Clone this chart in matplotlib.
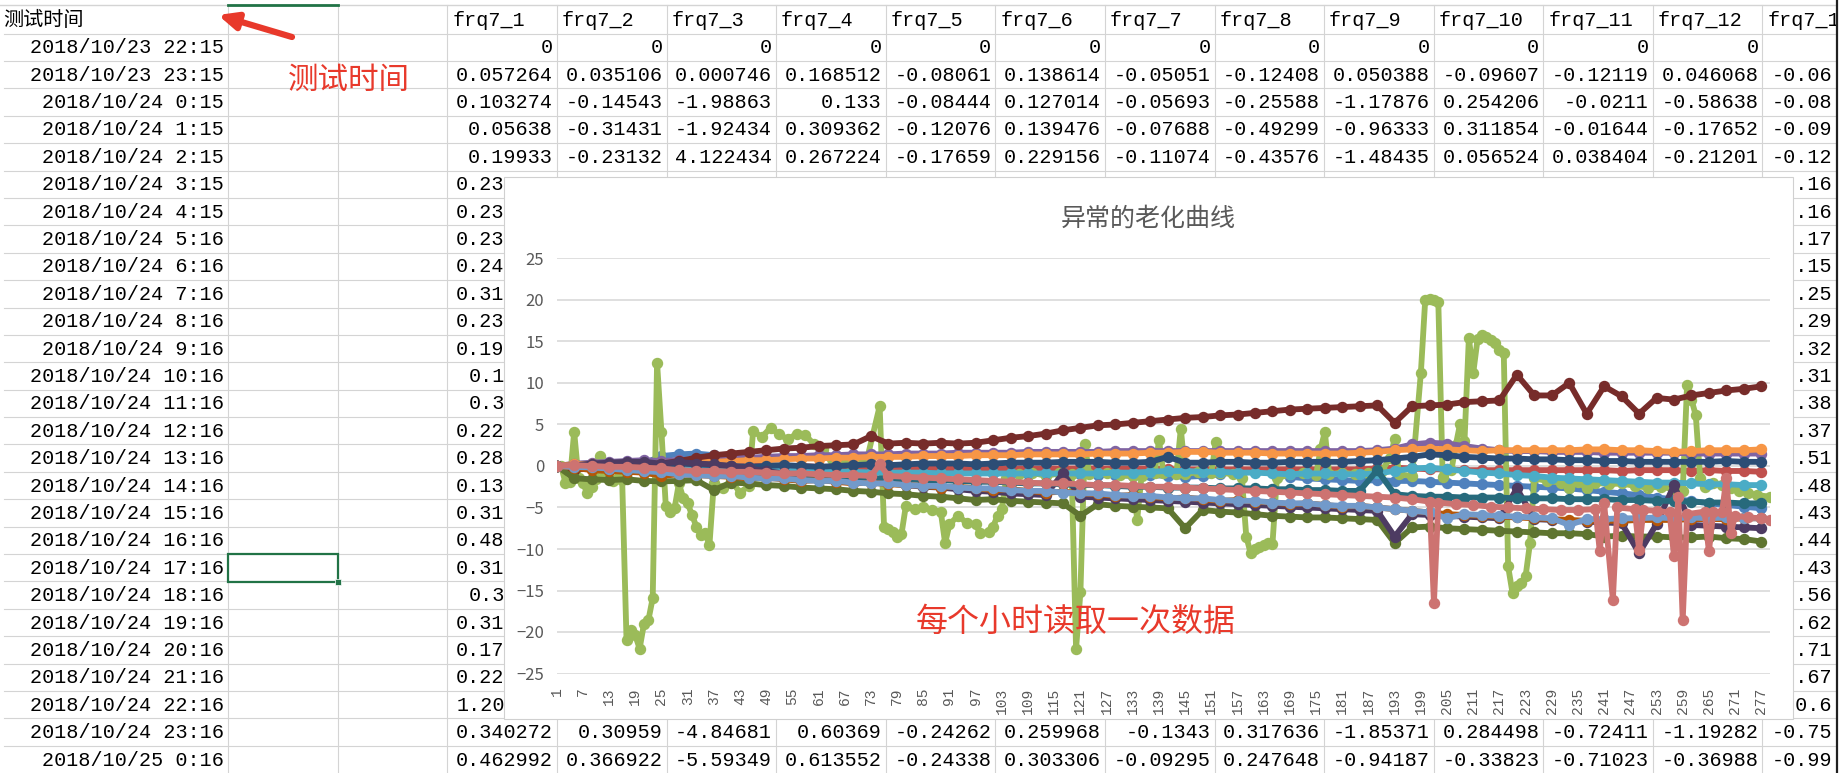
import matplotlib.pyplot as plt
from matplotlib.patches import Rectangle

plt.rcParams['font.family'] = ['Noto Sans CJK SC', 'DejaVu Sans']

# ---------------- spreadsheet contents ----------------
header_label = '测试时间'
frq_names = ['frq7_%d' % (i + 1) for i in range(12)] + ['frq7_1']  # last header is cut by the window
test_times = ['2018/10/23 22:15', '2018/10/23 23:15', '2018/10/24 0:15', '2018/10/24 1:15',
              '2018/10/24 2:15', '2018/10/24 3:15', '2018/10/24 4:15', '2018/10/24 5:16',
              '2018/10/24 6:16', '2018/10/24 7:16', '2018/10/24 8:16', '2018/10/24 9:16',
              '2018/10/24 10:16', '2018/10/24 11:16', '2018/10/24 12:16', '2018/10/24 13:16',
              '2018/10/24 14:16', '2018/10/24 15:16', '2018/10/24 16:16', '2018/10/24 17:16',
              '2018/10/24 18:16', '2018/10/24 19:16', '2018/10/24 20:16', '2018/10/24 21:16',
              '2018/10/24 22:16', '2018/10/24 23:16', '2018/10/25 0:16']

# fully visible rows (row number -> 12 cells)
top_rows = {
    1: ['0'] * 12,
    2: ['0.057264', '0.035106', '0.000746', '0.168512', '-0.08061', '0.138614',
        '-0.05051', '-0.12408', '0.050388', '-0.09607', '-0.12119', '0.046068'],
    3: ['0.103274', '-0.14543', '-1.98863', '0.133', '-0.08444', '0.127014',
        '-0.05693', '-0.25588', '-1.17876', '0.254206', '-0.0211', '-0.58638'],
    4: ['0.05638', '-0.31431', '-1.92434', '0.309362', '-0.12076', '0.139476',
        '-0.07688', '-0.49299', '-0.96333', '0.311854', '-0.01644', '-0.17652'],
    5: ['0.19933', '-0.23132', '4.122434', '0.267224', '-0.17659', '0.229156',
        '-0.11074', '-0.43576', '-1.48435', '0.056524', '0.038404', '-0.21201'],
    26: ['0.340272', '0.30959', '-4.84681', '0.60369', '-0.24262', '0.259968',
         '-0.1343', '0.317636', '-1.85371', '0.284498', '-0.72411', '-1.19282'],
    27: ['0.462992', '0.366922', '-5.59349', '0.613552', '-0.24338', '0.303306',
         '-0.09295', '0.247648', '-0.94187', '-0.33823', '-0.71023', '-0.36988'],
}
# rows 6..25, first data column: only the start of the number shows beside the chart
frq1_visible = ['0.23', '0.23', '0.23', '0.24', '0.31', '0.23', '0.19', '0.1', '0.3', '0.22',
                '0.28', '0.13', '0.31', '0.48', '0.31', '0.3', '0.31', '0.17', '0.22', '1.20']
frq1_length = [8, 8, 8, 8, 8, 8, 8, 7, 7, 8, 8, 8, 8, 8, 8, 7, 8, 8, 8, 8]
# last column (frq7_13), cut by the window edge; rows 2..27
frq13_visible = ['-0.06', '-0.08', '-0.09', '-0.12',
                 '-0.16', '-0.16', '-0.17', '-0.15', '-0.25', '-0.29', '-0.32', '-0.31', '-0.38', '-0.37',
                 '-0.51', '-0.48', '-0.43', '-0.44', '-0.43', '-0.56', '-0.62', '-0.71', '-0.67', '-0.6',
                 '-0.75', '-0.99']
frq13_length = [8] * 23 + [7, 8, 8]

# ---------------- chart data (hour index -> drift) ----------------
HOURS = list(range(1, 278, 4))

frq7_1 = [0.00, 0.20, 0.23, 0.19, 0.28, 0.31, 1.20, 1.40, 1.50, 1.30,
          0.40, 0.20, 0.10, 0.00, -0.10, -0.20, -0.30, -0.40, -0.50, -0.50,
          -0.60, -0.50, -0.70, -0.80, -0.70, -0.90, -0.80, -1.00, -0.90, -1.00,
          -1.00, -1.10, -1.10, -1.20, -1.10, -1.20, -1.30, -1.20, -1.00, -0.60,
          -0.50, -0.70, -1.30, -1.50, -1.60, -1.70, -1.80, -1.70, -1.80, -1.80,
          -1.90, -2.00, -2.10, -2.20, -2.30, -2.40, -2.50, -2.60, -2.70, -2.90,
          -3.10, -3.30, -3.50, -3.80, -4.00, -4.20, -4.50, -4.70, -4.90, -5.10]
frq7_2 = [0.00, -0.23, -0.10, 0.00, 0.10, 0.20, 0.31, 0.30, 0.20, 0.20,
          0.10, 0.10, 0.00, 0.00, 0.00, -0.10, -0.10, -0.10, -0.10, -0.20,
          -0.20, -0.20, -0.20, -0.20, -0.30, -0.30, -0.30, -0.30, -0.30, -0.30,
          -0.30, -0.30, -0.30, -0.30, -0.30, -0.40, -0.40, -0.40, -0.40, -0.40,
          -0.40, -0.40, -0.40, -0.40, -0.40, -0.40, -0.40, -0.30, -0.20, -0.30,
          -0.40, -0.40, -0.50, -0.50, -0.50, -0.50, -0.50, -0.50, -0.50, -0.50,
          -0.50, -0.60, -0.50, -0.50, -0.50, -0.60, -0.50, -0.60, -0.60, -0.70]
frq7_3_x = [1, 2, 3, 4, 5, 6, 7, 8, 9, 10,
            11, 12, 13, 14, 15, 16, 17, 18, 19, 20,
            21, 22, 23, 24, 25, 26, 27, 28, 29, 30,
            31, 32, 33, 34, 35, 36, 37, 39, 41, 43,
            45, 46, 48, 50, 52, 54, 56, 58, 60, 62,
            64, 68, 72, 75, 76, 77, 78, 79, 80, 81,
            83, 85, 87, 89, 90, 91, 93, 95, 97, 98,
            100, 101, 102, 103, 104, 107, 110, 113, 116, 119,
            120, 121, 122, 123, 127, 130, 133, 134, 135, 138,
            139, 140, 143, 144, 145, 148, 151, 152, 153, 156,
            158, 159, 160, 161, 162, 163, 164, 165, 166, 169,
            172, 175, 176, 177, 178, 181, 184, 187, 190, 192,
            193, 194, 197, 199, 200, 201, 202, 203, 204, 206,
            207, 208, 209, 210, 211, 212, 213, 214, 215, 216,
            217, 218, 219, 220, 221, 222, 223, 224, 225, 228,
            231, 233, 235, 237, 239, 242, 245, 248, 251, 254,
            257, 259, 260, 261, 262, 263, 264, 266, 268, 270,
            272, 274, 276, 279]
frq7_3 = [0.00, 0.00, -1.99, -1.92, 4.12, -1.50, -2.00, -3.30, -2.50, -1.60,
          1.20, -1.00, -1.60, -1.80, -1.50, -1.70, -21.00, -19.80, -20.40, -22.00,
          -19.00, -18.60, -15.90, 12.40, 4.10, -4.85, -5.59, -5.10, -2.10, -3.90,
          -4.50, -5.90, -7.30, -8.30, -8.10, -9.50, -2.10, -2.60, -1.80, -3.20,
          -2.40, 4.20, 3.50, 4.60, 3.80, 3.20, 3.90, 3.70, 2.60, 2.00,
          0.80, 0.40, 0.60, 7.20, -7.30, -7.60, -8.00, -8.50, -8.20, -4.80,
          -5.20, -4.90, -5.30, -5.50, -9.30, -7.00, -6.00, -6.90, -7.00, -8.10,
          -8.00, -7.30, -6.00, -5.20, -1.40, -1.00, -0.80, -1.20, -0.90, -1.00,
          -22.00, -15.20, 2.70, -1.00, -0.80, -1.10, -1.20, -6.50, -1.20, -0.90,
          3.10, -0.80, -1.00, 4.50, -1.00, -0.70, -0.90, 2.90, -0.80, -1.00,
          -1.50, -8.50, -10.50, -10.00, -9.80, -9.50, -9.30, -9.40, -1.50, -1.00,
          -0.90, -1.10, 2.00, 4.10, -1.00, -0.80, -1.00, -0.90, -0.60, 1.00,
          3.30, -1.00, -1.20, 11.20, 20.00, 20.10, 20.00, 19.80, -1.30, -0.50,
          2.50, 5.10, 3.00, 15.40, 11.20, 15.30, 15.80, 15.60, 15.20, 14.80,
          14.00, 13.60, -12.10, -15.30, -14.50, -14.10, -13.30, -9.30, -1.50, -1.80,
          -2.00, -2.70, -1.90, -2.70, -2.00, -2.20, -2.10, -2.40, -2.60, -2.50,
          -2.80, -3.00, 9.80, 8.00, 6.10, -1.50, -2.50, -2.00, -2.30, -2.60,
          -3.00, -3.30, -3.50, -3.70]
frq7_4 = [0.00, 0.27, 0.40, 0.50, 0.60, 0.70, 0.60, 0.70, 0.80, 0.90,
          1.00, 1.00, 1.10, 1.20, 1.20, 1.30, 1.30, 1.40, 1.40, 1.40,
          1.50, 1.50, 1.50, 1.60, 1.60, 1.60, 1.60, 1.70, 1.70, 1.70,
          1.70, 1.70, 1.80, 1.80, 1.80, 1.80, 1.80, 1.80, 1.80, 1.80,
          1.80, 1.80, 1.80, 1.80, 1.80, 1.80, 1.80, 1.90, 2.10, 2.60,
          2.80, 2.70, 2.40, 2.10, 1.90, 1.80, 1.80, 1.70, 1.70, 1.70,
          1.60, 1.60, 1.60, 1.60, 1.60, 1.50, 1.50, 1.50, 1.50, 1.50]
frq7_5 = [0.00, -0.18, -0.20, -0.30, -0.30, -0.30, -0.24, -0.40, -0.40, -0.40,
          -0.50, -0.50, -0.50, -0.60, -0.60, -0.60, -0.70, -0.70, -0.80, -0.80,
          -0.80, -0.80, -0.90, -0.90, -0.90, -0.90, -0.90, -0.90, -0.90, -0.90,
          -0.90, -0.90, -0.80, -0.80, -0.70, -0.60, -0.60, -0.70, -0.70, -0.80,
          -0.80, -0.90, -1.00, -0.90, -0.90, -1.00, -1.00, -0.90, -0.60, -0.30,
          -0.20, -0.40, -0.60, -0.80, -0.90, -1.10, -1.20, -1.40, -1.50, -1.60,
          -1.70, -1.80, -1.90, -2.00, -2.00, -2.10, -2.20, -2.20, -2.30, -2.30]
frq7_6 = [0.00, 0.23, 0.20, 0.30, 0.30, 0.30, 0.26, 0.40, 0.50, 0.50,
          0.60, 0.70, 0.70, 0.80, 0.90, 0.90, 1.00, 1.00, 1.10, 1.10,
          1.10, 1.20, 1.20, 1.20, 1.30, 1.30, 1.30, 1.40, 1.40, 1.40,
          1.40, 1.50, 1.50, 1.50, 1.60, 1.60, 1.70, 1.70, 1.60, 1.60,
          1.60, 1.50, 1.50, 1.50, 1.50, 1.50, 1.60, 1.70, 1.90, 2.00,
          2.10, 2.00, 1.90, 1.80, 1.90, 1.90, 1.90, 1.90, 1.90, 2.00,
          2.00, 1.90, 1.90, 1.80, 1.70, 1.80, 1.90, 1.90, 1.90, 2.00]
frq7_7 = [0.00, -0.11, -0.20, -0.10, -0.30, -0.20, 0.10, 0.30, 0.20, 0.10,
          0.00, -0.10, 0.00, 0.10, 0.00, -0.10, 0.00, 0.10, 0.20, 0.10,
          0.20, 0.30, 0.30, 0.30, 0.20, 0.30, 0.40, 0.40, 0.40, 0.50,
          0.50, 0.50, 0.40, 0.40, 0.50, 1.10, 0.40, 0.40, 0.50, 0.50,
          0.40, 0.40, 0.50, 0.50, 0.50, 0.50, 0.60, 0.70, 0.90, 1.10,
          1.40, 1.30, 1.10, 1.00, 0.90, 0.90, 0.80, 0.80, 0.70, 0.70,
          0.60, 0.60, 0.50, 0.50, 0.50, 0.50, 0.50, 0.60, 0.50, 0.50]
frq7_8 = [0.00, -0.44, -0.30, -0.20, 0.00, 0.20, 0.30, 0.60, 1.00, 1.30,
          1.50, 1.70, 1.90, 2.10, 2.20, 2.40, 2.50, 2.60, 3.60, 2.70,
          2.80, 2.70, 2.80, 2.70, 2.80, 3.10, 3.40, 3.60, 3.90, 4.30,
          4.60, 4.90, 5.00, 5.20, 5.40, 5.60, 5.80, 5.90, 6.10, 6.20,
          6.40, 6.60, 6.80, 6.90, 7.00, 7.10, 7.20, 7.30, 5.20, 7.20,
          7.30, 7.40, 7.70, 7.80, 7.90, 11.00, 8.50, 8.50, 10.00, 6.30,
          9.60, 8.40, 6.30, 8.20, 8.00, 8.50, 8.80, 9.10, 9.30, 9.60]
frq7_9 = [0.00, -1.48, -1.60, -1.70, -1.60, -1.80, -1.85, -1.80, -1.70, -2.90,
          -2.00, -2.10, -2.30, -2.40, -2.60, -2.70, -2.80, -3.00, -3.10, -3.30,
          -3.40, -3.60, -3.70, -3.90, -4.10, -4.00, -4.20, -4.30, -4.40, -4.50,
          -6.00, -4.60, -4.80, -4.90, -5.00, -5.10, -7.50, -5.30, -5.50, -5.60,
          -5.80, -6.00, -6.10, -6.20, -6.20, -6.30, -6.40, -6.50, -9.30, -7.40,
          -7.30, -7.50, -7.60, -7.70, -7.80, -7.90, -8.00, -8.10, -8.10, -8.20,
          -8.50, -8.40, -8.50, -8.50, -8.60, -8.60, -8.50, -8.70, -8.80, -9.10]
frq7_10 = [0.00, 0.06, 0.30, 0.40, 0.50, 0.50, 0.28, 0.50, 0.30, 0.20,
           0.00, -0.30, -0.60, -0.90, -1.10, -1.30, -1.50, -1.70, -1.90, -2.10,
           -2.30, -2.50, -2.60, -2.80, -3.00, -3.10, -3.30, -3.40, -3.50, -0.90,
           -3.70, -3.80, -3.90, -4.00, -4.10, -4.20, -4.30, -4.40, -4.50, -4.60,
           -4.70, -4.80, -4.90, -5.00, -5.10, -5.20, -5.30, -5.40, -8.50, -5.80,
           -5.90, -6.00, -6.10, -6.20, -6.30, -2.70, -6.40, -6.50, -6.60, -6.70,
           -6.80, -6.90, -10.50, -7.00, -2.30, -7.10, -7.20, -7.30, -7.40, -7.50]
frq7_11 = [0.00, 0.04, -0.20, -0.30, -0.40, -0.50, -0.72, -0.70, -0.80, -0.90,
           -1.00, -1.00, -1.10, -1.20, -1.20, -1.30, -1.40, -1.40, -1.50, -1.50,
           -1.60, -1.70, -1.70, -1.80, -1.90, -1.90, -2.00, -2.10, -2.10, -2.20,
           -2.30, -2.30, -2.40, -2.50, -2.50, -2.60, -2.60, -2.60, -2.70, -2.70,
           -2.70, -2.80, -2.80, -2.90, -2.90, -3.00, -3.00, -0.50, -3.40, -3.60,
           -3.70, -3.70, -3.80, -3.80, -3.80, -3.90, -3.90, -3.90, -4.00, -4.00,
           -4.00, -4.10, -4.10, -4.20, -4.20, -4.30, -4.40, -4.40, -4.50, -4.50]
frq7_12 = [0.00, -0.21, -0.50, -0.60, -0.70, -0.80, -1.19, -1.00, -1.10, -1.20,
           -1.30, -1.50, -1.40, -1.60, -1.80, -1.70, -1.90, -2.10, -2.00, -2.20,
           -2.30, -2.40, -2.60, -2.50, -2.70, -2.90, -2.80, -3.00, -3.20, -3.10,
           -3.30, -3.40, -3.60, -3.50, -3.70, -3.90, -3.80, -4.00, -4.20, -4.10,
           -4.30, -4.40, -4.60, -4.50, -4.70, -4.90, -4.80, -5.00, -5.20, -5.40,
           -5.60, -5.80, -5.90, -6.00, -6.10, -6.20, -6.30, -6.40, -6.50, -6.60,
           -6.60, -6.60, -6.50, -6.50, -6.50, -6.40, -6.40, -6.40, -6.30, -6.30]
frq7_13 = [0.00, -0.12, -0.17, -0.31, -0.48, -0.62, -0.75, -1.00, -1.10, -1.20,
           -1.20, -1.40, -1.50, -1.50, -1.70, -1.80, -1.80, -2.00, -2.10, -2.10,
           -2.30, -2.40, -2.40, -2.60, -2.70, -2.70, -2.90, -3.00, -3.00, -3.20,
           -3.30, -3.30, -3.50, -3.60, -3.60, -3.80, -3.90, -3.90, -4.10, -4.20,
           -4.20, -4.40, -4.50, -4.50, -4.70, -4.80, -4.80, -5.00, -5.20, -5.40,
           -5.60, -6.30, -5.80, -5.90, -6.00, -6.10, -6.20, -6.30, -7.10, -6.40,
           -6.40, -6.30, -6.30, -6.20, -6.30, -6.20, -6.30, -6.20, -6.30, -6.30]
frq7_14_x = [1, 5, 9, 13, 17, 21, 25, 29, 33, 37,
             41, 45, 49, 53, 57, 61, 65, 69, 73, 75,
             77, 81, 85, 89, 93, 97, 101, 105, 109, 113,
             117, 121, 125, 129, 133, 137, 141, 145, 149, 153,
             157, 161, 165, 169, 173, 177, 181, 185, 189, 193,
             197, 201, 202, 203, 207, 211, 215, 219, 223, 227,
             231, 235, 239, 240, 241, 243, 244, 248, 249, 250,
             253, 256, 257, 258, 259, 260, 264, 265, 266, 268,
             269, 270, 271, 274, 277, 279]
frq7_14 = [0.00, 0.10, 0.00, -0.10, -0.10, -0.20, -0.30, -0.50, -0.60, -0.60,
           -0.70, -0.70, -0.80, -0.90, -0.90, -1.00, -1.10, -1.10, -1.20, 0.20,
           -1.20, -1.30, -1.40, -1.50, -1.60, -1.70, -1.80, -1.90, -2.00, -2.10,
           -2.10, -2.20, -2.30, -2.30, -2.40, -2.50, -2.50, -2.60, -2.70, -2.80,
           -2.90, -3.00, -3.10, -3.20, -3.30, -3.40, -3.50, -3.60, -3.70, -3.80,
           -4.00, -4.30, -16.50, -4.40, -4.60, -4.70, -4.90, -5.00, -5.10, -5.20,
           -5.30, -5.30, -5.20, -10.30, -4.50, -16.10, -5.00, -5.20, -10.10, -5.30,
           -5.40, -5.60, -10.90, -3.70, -18.60, -5.80, -5.50, -10.30, -5.60, -5.60,
           -1.50, -8.10, -6.00, -6.20, -6.30, -6.50]

series = [
    (HOURS, frq7_1, '#4F81BD'), (HOURS, frq7_2, '#C0504D'), (frq7_3_x, frq7_3, '#9BBB59'),
    (HOURS, frq7_4, '#8064A2'), (HOURS, frq7_5, '#4BACC6'), (HOURS, frq7_6, '#F79646'),
    (HOURS, frq7_7, '#2C4D75'), (HOURS, frq7_8, '#772C2A'), (HOURS, frq7_9, '#5F7530'),
    (HOURS, frq7_10, '#4D3B62'), (HOURS, frq7_11, '#276A7C'), (HOURS, frq7_12, '#B65708'),
    (HOURS, frq7_13, '#729ACA'), (frq7_14_x, frq7_14, '#CD7371'),
]

# ---------------- layout (pixels of the 1843x773 screenshot) ----------------
W, H = 1843, 773
ROW_TOP, ROW_H = 33.5, 27.4
COL_A_RIGHT, COL_B, COL_C = 228.3, 338.3, 447.3
COL_W = 109.6
MONO = ['Liberation Mono', 'DejaVu Sans Mono']
FS = 14.5
CW = 0.6 * FS * 100 / 72
RED = '#E8392B'
GRID = '#D4D4D4'


def row_mid(k):
    return ROW_TOP + ROW_H * (k - 0.5)


fig = plt.figure(figsize=(W / 100, H / 100), dpi=100)
sheet = fig.add_axes([0, 0, 1, 1])
sheet.set_xlim(0, W)
sheet.set_ylim(H, 0)
sheet.axis('off')

# cell grid
sheet.plot([0, W], [5, 5], color=GRID, lw=1, zorder=1)
sheet.plot([COL_A_RIGHT, COL_B], [5, 5], color='#217346', lw=2, zorder=2)
y = ROW_TOP
while y < H:
    sheet.plot([4, W], [y, y], color=GRID, lw=0.8, zorder=1)
    y += ROW_H
col_lines = [COL_A_RIGHT, COL_B, COL_C] + [COL_C + COL_W * (j + 1) for j in range(13)]
for x in col_lines:
    sheet.plot([x, x], [5, H], color=GRID, lw=0.8, zorder=1)

# header row
sheet.text(3, 20, header_label, fontsize=14.5, va='center', ha='left', zorder=3)
for j, name in enumerate(frq_names):
    sheet.text(COL_C + COL_W * j + 5, 20, name, family=MONO, fontsize=FS,
               va='center', ha='left', zorder=3)

# dates
for k, t in enumerate(test_times, start=1):
    sheet.text(COL_A_RIGHT - 4, row_mid(k) + 6, t, family=MONO, fontsize=FS,
               va='baseline', ha='right', zorder=3)

# numeric cells
for k, cells in top_rows.items():
    for j, v in enumerate(cells):
        sheet.text(COL_C + COL_W * (j + 1) - 4, row_mid(k) + 6, v, family=MONO,
                   fontsize=FS, va='baseline', ha='right', zorder=3)
for i, (frag, n) in enumerate(zip(frq1_visible, frq1_length)):
    sheet.text(COL_C + COL_W - 4 - n * CW, row_mid(6 + i) + 6, frag, family=MONO,
               fontsize=FS, va='baseline', ha='left', zorder=3)
last_right = COL_C + COL_W * 13 - 4
for i, (frag, n) in enumerate(zip(frq13_visible, frq13_length)):
    sheet.text(last_right - n * CW, row_mid(2 + i) + 6, frag, family=MONO,
               fontsize=FS, va='baseline', ha='left', zorder=3)

# selected cell
sel_top = ROW_TOP + ROW_H * 19
sheet.add_patch(Rectangle((COL_A_RIGHT, sel_top), COL_B - COL_A_RIGHT, ROW_H,
                          fill=False, edgecolor='#217346', lw=1.6, zorder=4))
sheet.add_patch(Rectangle((COL_B - 3, sel_top + ROW_H - 3), 6, 6,
                          facecolor='#217346', edgecolor='white', lw=0.5, zorder=5))

# annotations on the sheet
sheet.text(288, 80, '测试时间', color=RED, fontsize=22, va='center', ha='left', zorder=6)
sheet.annotate('', xy=(218, 15), xytext=(292, 37),
               arrowprops=dict(arrowstyle='-|>,head_length=1.1,head_width=0.5',
                               color=RED, lw=4.5, shrinkA=0, shrinkB=0), zorder=6)

# window edge
sheet.add_patch(Rectangle((1836, 0), 7, H, facecolor='white', edgecolor='none', zorder=12))
sheet.plot([1836.5, 1836.5], [0, H], color='#202020', lw=1.6, zorder=13)

# chart frame
sheet.add_patch(Rectangle((504, 177), 1793 - 504, 719 - 177, facecolor='white',
                          edgecolor='#D0D0D0', lw=0.8, zorder=10))

# ---------------- the chart ----------------
x0, x1 = 556.7, 1770.0
y_top, y_bot = 258.5, 673.5
ax = fig.add_axes([x0 / W, 1 - y_bot / H, (x1 - x0) / W, (y_bot - y_top) / H])
ax.set_facecolor('none')
for xs, ys, c in series:
    ax.plot(xs, ys, color=c, lw=4.2, marker='o', ms=7.2, mfc=c, mec=c,
            solid_joinstyle='round', solid_capstyle='round')

ax.set_xlim(1, 279)
ax.set_ylim(-25, 25)
ax.set_yticks(range(-25, 26, 5))
ax.set_xticks(range(1, 278, 6))
ax.set_xticklabels([str(v) for v in range(1, 278, 6)], rotation=90,
                   family=MONO, fontsize=10.5, color='#595959')
ax.tick_params(axis='y', length=0, pad=9, labelsize=12, labelcolor='#595959')
ax.tick_params(axis='x', length=0, pad=10)
ax.yaxis.grid(True, color='#D9D9D9', lw=1.2)
ax.set_axisbelow(True)
for s in ax.spines.values():
    s.set_visible(False)

fig.text(1148 / W, 1 - 219 / H, '异常的老化曲线', fontsize=18, color='#595959',
         ha='center', va='center')
fig.text(916 / W, 1 - 622 / H, '每个小时读取一次数据', fontsize=23, color=RED,
         ha='left', va='center')

fig.savefig('out.png', dpi=100)
